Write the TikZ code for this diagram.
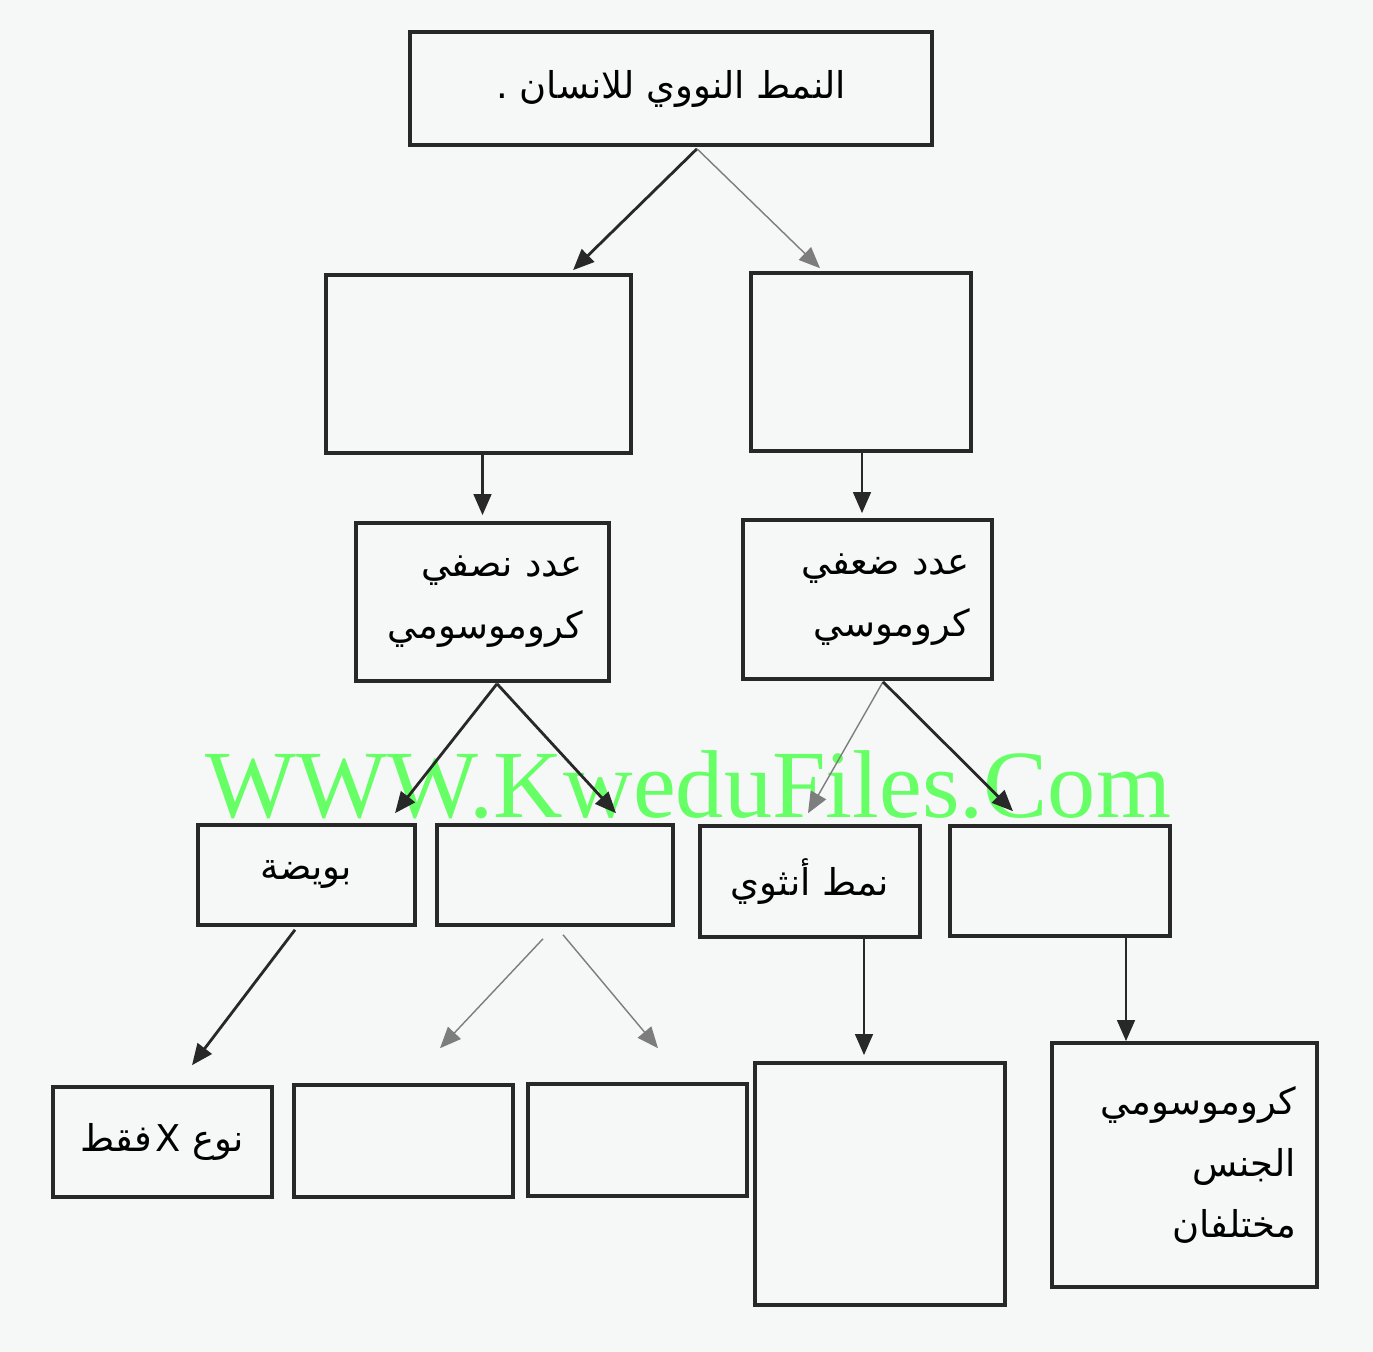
\documentclass[tikz,border=0pt]{standalone}
\usepackage{fontspec}
\newfontfamily\arabicfont[Script=Arabic]{DejaVu Sans}
\newfontfamily\wmfont{Liberation Serif}
\TeXXeTstate=1
\usetikzlibrary{arrows.meta,calc}
\definecolor{paper}{RGB}{246,247,247}
\definecolor{ink}{RGB}{40,40,40}
\definecolor{faint}{RGB}{125,125,125}
\definecolor{wmgreen}{RGB}{102,255,102}
\newcommand{\artxt}[1]{\beginR #1\endR}
\tikzset{
    >={Triangle[length=6pt,width=5pt]},
    box/.style={rectangle, draw=ink, line width=1pt, inner sep=0pt, font=\arabicfont\fontsize{10.5}{17.6}\selectfont},
    rbox/.style={box, align=right},
    arr/.style={->, draw=ink, line width=0.8pt},
    thinarr/.style={->, draw=faint, line width=0.4pt}
}

\begin{document}
\begin{tikzpicture}[x=0.01cm, y=-0.01cm]
    \fill[paper] (0,0) rectangle (1373,1352);
    \useasboundingbox (0,0) rectangle (1373,1352);

    % level 1
    \node[box, minimum width=5.22cm, minimum height=1.13cm] (top) at (671,88.5) {\artxt{النمط النووي للانسان .}};

    % level 2
    \node[box, minimum width=3.05cm, minimum height=1.78cm] (l2a) at (478.5,364) {};
    \node[box, minimum width=2.20cm, minimum height=1.78cm] (l2b) at (861,362) {};

    % level 3
    \node[rbox, minimum width=2.53cm, minimum height=1.58cm, text width=2.01cm, inner xsep=0.26cm] (l3a) at (482.5,602)
        {\artxt{عدد نصفي}\\\artxt{كروموسومي}};
    \node[rbox, minimum width=2.49cm, minimum height=1.59cm, text width=2.05cm, inner xsep=0.22cm] (l3b) at (867.5,599.5)
        {\artxt{عدد ضعفي}\\\artxt{كروموسي}};

    % level 4
    \node[box, minimum width=2.17cm, minimum height=1.00cm] (l4a) at (306.5,875) {\artxt{بويضة}};
    \node[box, minimum width=2.36cm, minimum height=1.00cm] (l4b) at (555,875) {};
    \node[box, minimum width=2.20cm, minimum height=1.11cm] (l4c) at (810,881.5) {\artxt{نمط أنثوي}};
    \node[box, minimum width=2.20cm, minimum height=1.10cm] (l4d) at (1060,881) {};

    % level 5
    \node[box, minimum width=2.19cm, minimum height=1.10cm] (l5a) at (162.5,1142) {\artxt{نوع X\kern1ptفقط}};
    \node[box, minimum width=2.19cm, minimum height=1.12cm] (l5b) at (403.5,1141) {};
    \node[box, minimum width=2.19cm, minimum height=1.12cm] (l5c) at (637.5,1140) {};
    \node[box, minimum width=2.50cm, minimum height=2.42cm] (l5d) at (880,1184) {};
    \node[rbox, minimum width=2.65cm, minimum height=2.44cm, text width=2.23cm, inner xsep=0.21cm] (l5e) at (1184.5,1165)
        {\artxt{كروموسومي}\\\artxt{الجنس}\\\artxt{مختلفان}};

    % watermark
    \node[anchor=base west, inner sep=0pt, text=wmgreen, font=\wmfont\fontsize{27.4}{27.4}\selectfont] (wm) at (205,817) {WWW.KweduFiles.Com};

    % arrows
    \draw[arr] ($(top.south)+(26,2)$) -- ($(l2a.north)+(94.5,-3)$);
    \draw[thinarr] ($(top.south)+(26,2)$) -- ($(l2b.north)+(-41,-3)$);
    \draw[arr] (l2a.south -| l3a.north) -- ($(l3a.north)+(0,-6)$);
    \draw[arr] ($(l2b.south)+(1,0)$) -- ($(l3b.north)+(-5.5,-5)$);
    \draw[arr] ($(l3a.south)+(14.5,1)$) -- ($(l4a.north)+(88.5,-10)$);
    \draw[arr] ($(l3a.south)+(14.5,1)$) -- ($(l4b.north)+(61,-10)$);
    \draw[thinarr] ($(l3b.south)+(15.5,1)$) -- ($(l4c.north)+(-2,-11)$);
    \draw[arr] ($(l3b.south)+(15.5,1)$) -- ($(l4d.north)+(-47,-13)$);
    \draw[arr] ($(l4a.south)+(-11.5,3)$) -- ($(l5a.north)+(29.5,-20)$);
    \draw[thinarr] ($(l4b.south)+(-12,12)$) -- ($(l5b.north)+(36.5,-35)$);
    \draw[thinarr] ($(l4b.south)+(8,8)$) -- ($(l5c.north)+(20.5,-34)$);
    \draw[arr] ($(l4c.south)+(54,0)$) -- ($(l5d.north)+(-16,-6)$);
    \draw[arr] ($(l4d.south)+(66,0)$) -- ($(l5e.north)+(-58.5,0)$);
\end{tikzpicture}
\end{document}
